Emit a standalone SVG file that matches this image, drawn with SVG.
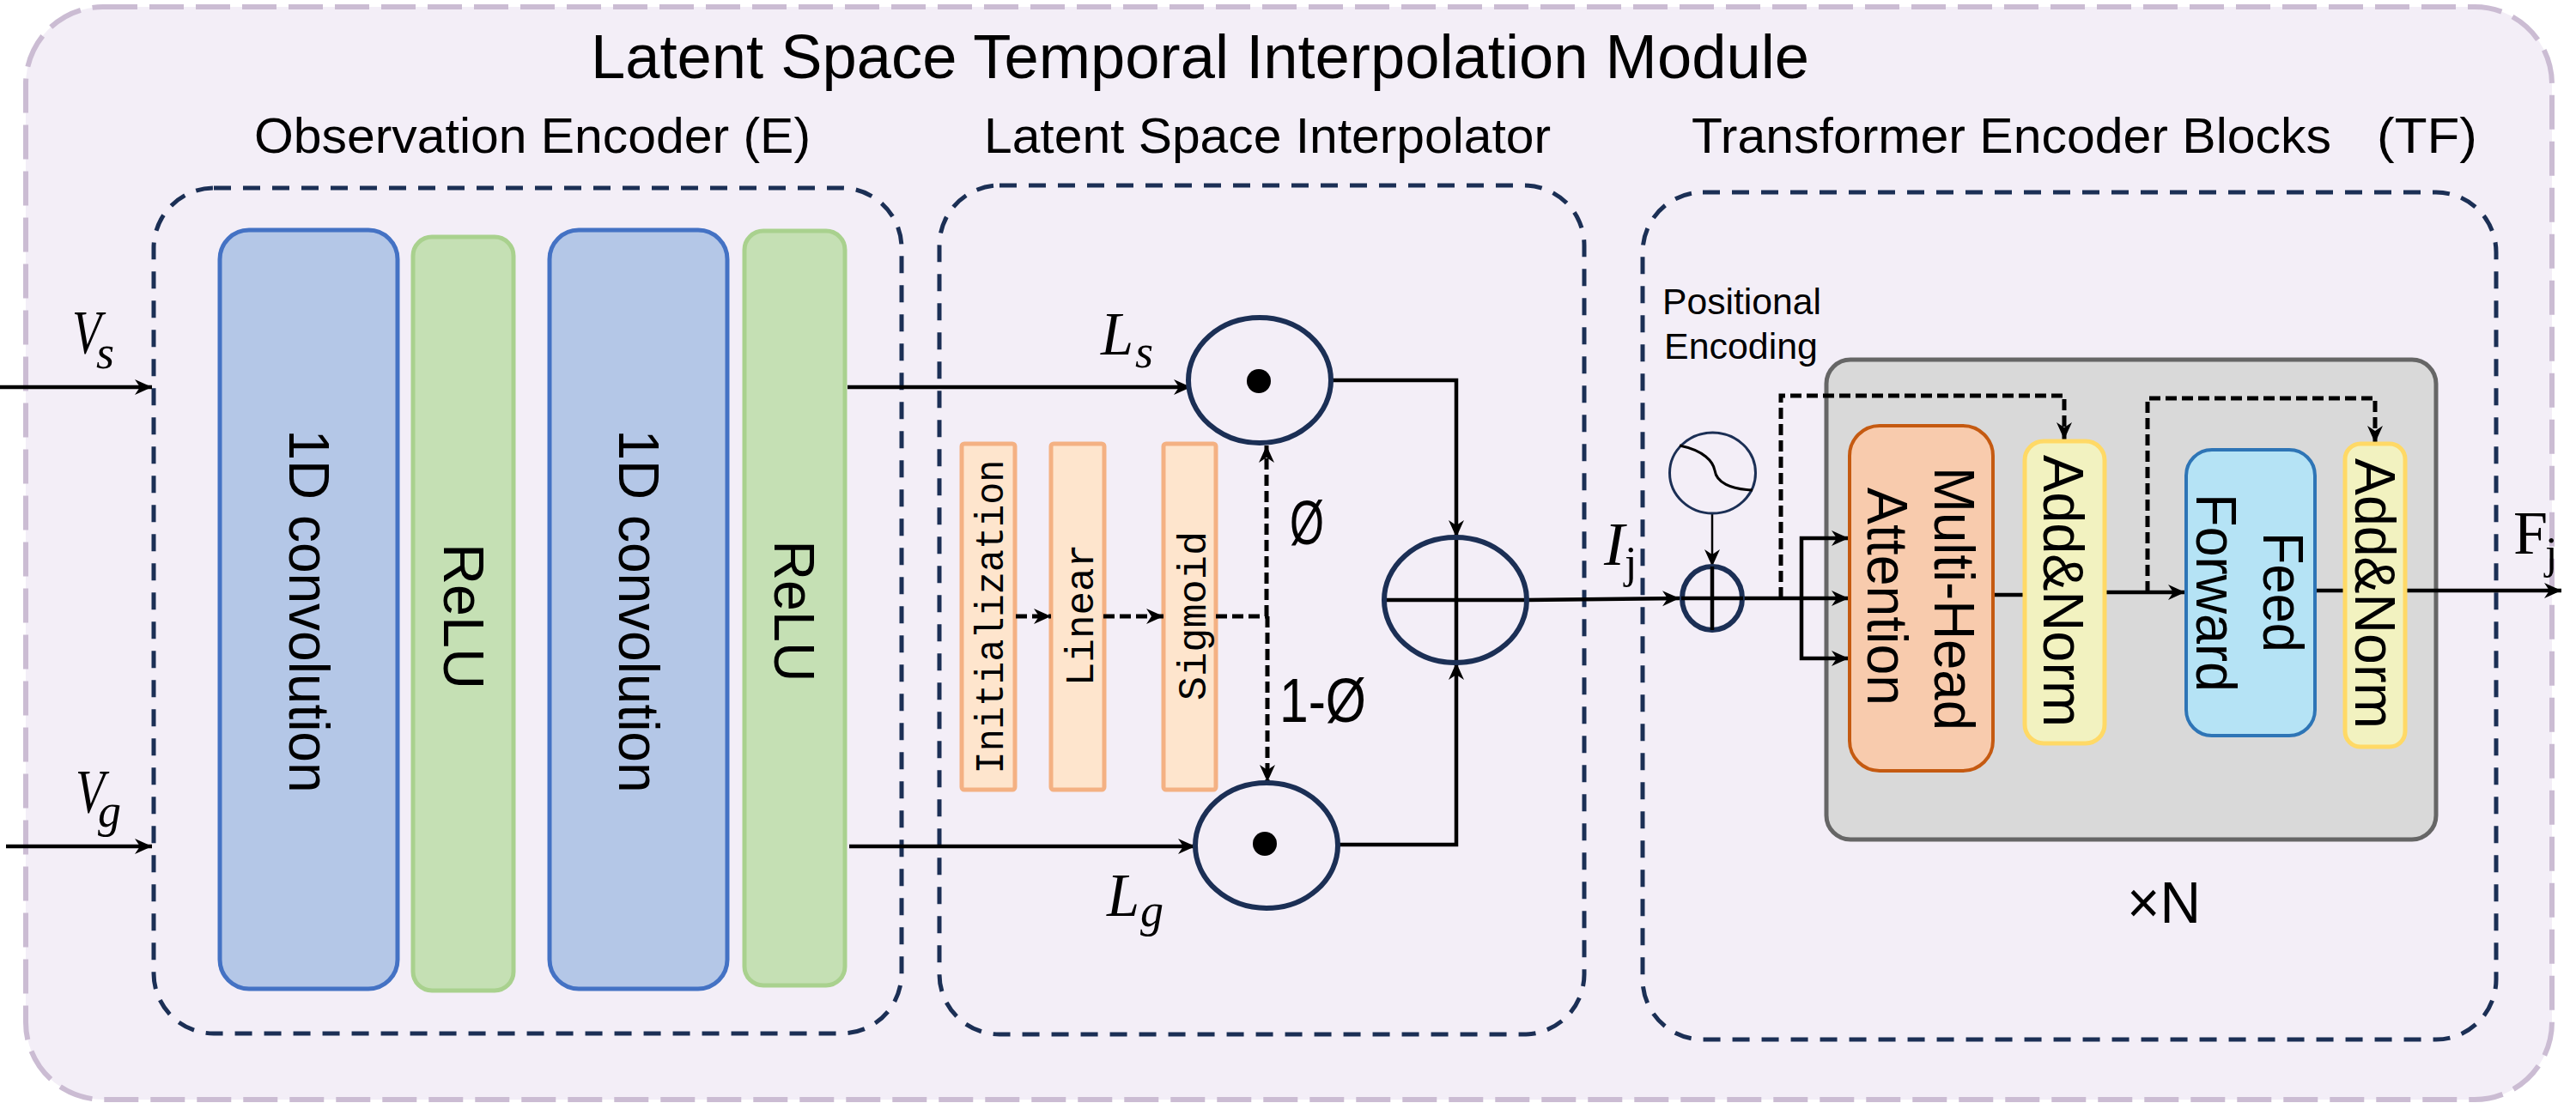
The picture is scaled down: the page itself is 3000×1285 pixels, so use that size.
<svg xmlns="http://www.w3.org/2000/svg" width="3000" height="1285" viewBox="0 0 3000 1285">
<style>
text{font-family:"Liberation Sans",Arial,sans-serif;fill:#000}
.h2{font-size:58px}
.rot{font-size:66px;text-anchor:middle}
.mono{font-family:"Liberation Mono",monospace;font-size:46px;text-anchor:middle}
.m{font-family:"Liberation Serif",serif;font-style:italic;font-size:72px}
.sub{font-family:"Liberation Serif",serif;font-style:italic;font-size:54px}
.up{font-family:"Liberation Serif",serif;font-size:72px}
.ups{font-family:"Liberation Serif",serif;font-size:52px}
.box{fill:none;stroke:#1b2f55;stroke-width:5;stroke-dasharray:20 14}
.blue{fill:#b4c7e7;stroke:#4472c4;stroke-width:5}
.green{fill:#c5e0b4;stroke:#a9d18e;stroke-width:5}
.or{fill:#fee5cd;stroke:#f4b183;stroke-width:5}
.yel{fill:#f2f2c0;stroke:#ffd966;stroke-width:5}
.circ{fill:none;stroke:#1b2f55;stroke-width:6}
.l{fill:none;stroke:#000;stroke-width:4.5}
.a{marker-end:url(#ah)}
.d{fill:none;stroke:#000;stroke-width:5;stroke-dasharray:13 6}
</style>
<defs>
<marker id="ah" markerUnits="userSpaceOnUse" markerWidth="22" markerHeight="20" refX="20" refY="10" orient="auto">
<path d="M0,1 L20,10 L0,19 L6,10 Z" fill="#000"/>
</marker>
</defs>
<g id="module">
<rect x="30" y="8" width="2942" height="1273" rx="90" fill="#f3eef7" stroke="#cbbcd3" stroke-width="6" stroke-dasharray="40 14"/>
<text x="688" y="91" font-size="72" textLength="1419" lengthAdjust="spacingAndGlyphs">Latent Space Temporal Interpolation Module</text>
<text class="h2" x="296" y="178" textLength="648" lengthAdjust="spacingAndGlyphs">Observation Encoder (E)</text>
<text class="h2" x="1146" y="178" textLength="660" lengthAdjust="spacingAndGlyphs">Latent Space Interpolator</text>
<text class="h2" x="1970" y="178" textLength="745" lengthAdjust="spacingAndGlyphs">Transformer Encoder Blocks</text>
<text class="h2" x="2768" y="178" textLength="117" lengthAdjust="spacingAndGlyphs">(TF)</text>
</g>
<g id="encoder">
<rect class="box" x="179" y="219" width="871" height="985" rx="70"/>
<rect class="blue" x="256" y="268" width="207" height="884" rx="34"/>
<text class="rot" transform="translate(337,712) rotate(90)" textLength="423" lengthAdjust="spacingAndGlyphs">1D convolution</text>
<rect class="green" x="481" y="276" width="117" height="878" rx="22"/>
<text class="rot" transform="translate(517,718) rotate(90)" textLength="170" lengthAdjust="spacingAndGlyphs">ReLU</text>
<rect class="blue" x="640" y="268" width="207" height="884" rx="34"/>
<text class="rot" transform="translate(721,712) rotate(90)" textLength="423" lengthAdjust="spacingAndGlyphs">1D convolution</text>
<rect class="green" x="867" y="269" width="117" height="879" rx="22"/>
<text class="rot" transform="translate(902,712) rotate(90)" textLength="165" lengthAdjust="spacingAndGlyphs">ReLU</text>
</g>
<g id="interpolator">
<rect class="box" x="1094" y="216" width="751" height="989" rx="70"/>
</g>
<g id="init"><rect class="or" x="1120" y="517" width="62" height="403" rx="3"/>
<text class="mono" transform="translate(1168,718.5) rotate(-90)" textLength="366" lengthAdjust="spacingAndGlyphs">Initialization</text></g>
<g id="linear"><rect class="or" x="1224" y="517" width="62" height="403" rx="3"/>
<text class="mono" transform="translate(1273,716.5) rotate(-90)">Linear</text></g>
<g id="sigmoid"><rect class="or" x="1355" y="517" width="61" height="403" rx="3"/>
<text class="mono" transform="translate(1403.5,717.5) rotate(-90)" style="font-size:47px">Sigmoid</text></g>
<g id="tf">
<rect class="box" x="1913" y="224" width="994" height="987" rx="70"/>
<rect x="2127" y="419" width="710" height="559" rx="28" fill="#d9d9d9" stroke="#666" stroke-width="5"/>
<text x="2477" y="1075" font-size="68" textLength="86" lengthAdjust="spacingAndGlyphs">×N</text>
</g>
<g id="connectors">
<path class="l a" d="M0,451H177"/>
<path class="l a" d="M7,986H177"/>
<path class="l a" d="M987,451H1387"/>
<path class="l a" d="M989,986H1392"/>
<path class="l a" d="M1550,443H1696V626"/>
<path class="l a" d="M1559,984H1696V772"/>
<path class="l" d="M1614,699H1777M1696,626V772"/>
<path class="l a" d="M1777,699L1956,697"/>
<path class="d a" d="M1183,718H1224"/>
<path class="d a" d="M1285,718H1355"/>
<path class="d" d="M1416,718H1476"/>
<path class="d a" d="M1475,718V519"/>
<path class="d a" d="M1476,718V911"/>
<path class="l" style="stroke-width:2.5" d="M1994,599V660" marker-end="url(#ah)"/>
<path class="l a" d="M2030,697H2153"/>
<path class="l a" d="M2098,697V627H2153"/>
<path class="l a" d="M2098,697V767H2153"/>
<path class="d a" d="M2074,697V461H2404V512"/>
<path class="d a" d="M2501,690V464H2766V516"/>
<path class="l" d="M2323,693H2358"/>
<path class="l a" d="M2452,690H2545"/>
<path class="l" d="M2697,688H2731"/>
<path class="l a" d="M2803,688H2983"/>
</g>
<g id="Vs"><text class="m" x="84" y="411" textLength="34" lengthAdjust="spacingAndGlyphs">V</text><text class="sub" x="112" y="429">s</text></g>
<g id="Vg"><text class="m" x="88" y="946" textLength="34" lengthAdjust="spacingAndGlyphs">V</text><text class="sub" x="114" y="963">g</text></g>
<g id="mul-top"><ellipse class="circ" cx="1467" cy="443" rx="83" ry="73"/><circle cx="1466" cy="444" r="14"/></g>
<g id="mul-bottom"><ellipse class="circ" cx="1475" cy="985" rx="83" ry="73"/><circle cx="1473" cy="983" r="14"/></g>
<g id="add"><ellipse class="circ" cx="1695" cy="699" rx="83" ry="73"/></g>
<g id="Ls"><text class="m" x="1282" y="413" textLength="38" lengthAdjust="spacingAndGlyphs">L</text><text class="sub" x="1322" y="428">s</text></g>
<g id="Lg"><text class="m" x="1289" y="1067" textLength="38" lengthAdjust="spacingAndGlyphs">L</text><text class="sub" x="1328" y="1079">g</text></g>
<g id="phi"><text x="1502" y="634" font-size="72" textLength="40" lengthAdjust="spacingAndGlyphs">Ø</text></g>
<g id="one-minus-phi"><text x="1490" y="841" font-size="72" textLength="101" lengthAdjust="spacingAndGlyphs">1-Ø</text></g>
<g id="Ij"><text class="m" x="1868" y="658">I</text><text class="ups" x="1892" y="673">j</text></g>
<g id="pos-enc">
<text x="1936" y="366" font-size="43" textLength="185" lengthAdjust="spacingAndGlyphs">Positional</text>
<text x="1938" y="418" font-size="43" textLength="179" lengthAdjust="spacingAndGlyphs">Encoding</text>
<ellipse cx="1994.5" cy="551" rx="50" ry="47" fill="none" stroke="#1b2f55" stroke-width="3"/>
<path d="M1956,519C1985,525 1995,538 1997,548C1999,562 2015,570 2041,571" fill="none" stroke="#000" stroke-width="3"/>
</g>
<g id="pos-add"><ellipse class="circ" cx="1994" cy="697" rx="35" ry="37"/><path class="l" d="M1958,697H2030M1994,660V734"/></g>
<g id="mha"><rect x="2154" y="496" width="167" height="402" rx="35" fill="#f8cbad" stroke="#c55a11" stroke-width="4"/>
<text class="rot" transform="translate(2253,697.5) rotate(90)" textLength="307" lengthAdjust="spacingAndGlyphs">Multi-Head</text>
<text class="rot" transform="translate(2175,695) rotate(90)" textLength="254" lengthAdjust="spacingAndGlyphs">Attention</text></g>
<g id="addnorm1"><rect class="yel" x="2358" y="514" width="93" height="352" rx="22"/>
<text class="rot" transform="translate(2380,688.5) rotate(90)" textLength="317" lengthAdjust="spacingAndGlyphs">Add&amp;Norm</text></g>
<g id="ff"><rect x="2546" y="524" width="150" height="333" rx="30" fill="#b5e3f5" stroke="#2e75b6" stroke-width="4"/>
<text class="rot" transform="translate(2636,690) rotate(90)" textLength="140" lengthAdjust="spacingAndGlyphs">Feed</text>
<text class="rot" transform="translate(2558,690.5) rotate(90)" textLength="231" lengthAdjust="spacingAndGlyphs">Forward</text></g>
<g id="addnorm2"><rect class="yel" x="2731" y="517" width="70" height="353" rx="18"/>
<text class="rot" transform="translate(2743,691.5) rotate(90)" textLength="315" lengthAdjust="spacingAndGlyphs">Add&amp;Norm</text></g>
<g id="Fj"><text class="up" x="2927" y="645">F</text><text class="ups" x="2964" y="662">j</text></g>
</svg>
